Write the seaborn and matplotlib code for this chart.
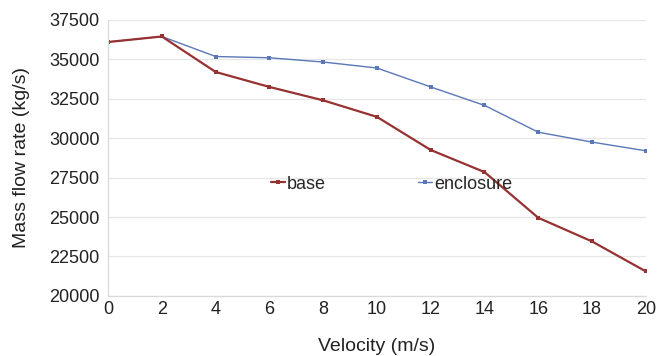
import pandas as pd
import seaborn as sns
import matplotlib.pyplot as plt

velocity = [0, 2, 4, 6, 8, 10, 12, 14, 16, 18, 20]
base = [36100, 36450, 34200, 33250, 32400, 31350, 29250, 27850, 24950, 23450, 21550]
enclosure = [36100, 36450, 35180, 35100, 34830, 34450, 33250, 32080, 30380, 29750, 29200]
y_ticks = [20000, 22500, 25000, 27500, 30000, 32500, 35000, 37500]


def main():
    df = pd.DataFrame({'Velocity': velocity * 2,
                       'Mass': base + enclosure,
                       'series': ['base'] * len(base) + ['enclosure'] * len(enclosure)})

    sns.set_style('white')
    plt.rcParams['font.family'] = ['Liberation Sans', 'DejaVu Sans']

    fig = plt.figure(figsize=(6.59, 3.56), dpi=100)
    ax = fig.add_axes([0.164, 0.169, 0.816, 0.775])

    palette = {'base': '#983232', 'enclosure': '#5a77b8'}
    for name, lw, ms in [('enclosure', 1.0, 3), ('base', 1.6, 3.5)]:
        sub = df[df['series'] == name]
        sns.lineplot(data=sub, x='Velocity', y='Mass', ax=ax, color=palette[name],
                     linewidth=lw, marker='s', markersize=ms, markeredgewidth=0,
                     label=name)

    ax.set_xlim(0, 20)
    ax.set_ylim(20000, 37500)
    ax.set_xticks(range(0, 21, 2))
    ax.set_yticks(y_ticks)
    ax.tick_params(axis='both', labelsize=13, length=4, width=0.8)
    ax.tick_params(axis='x', colors='#dddddd', labelcolor='#222222', pad=0)
    ax.tick_params(axis='y', colors='#dddddd', labelcolor='#222222', pad=2)
    ax.yaxis.grid(True, color='#e6e6e6', linewidth=0.9)
    for side in ['top', 'right']:
        ax.spines[side].set_visible(False)
    for side in ['left', 'bottom']:
        ax.spines[side].set_color('#d9d9d9')
        ax.spines[side].set_linewidth(0.9)

    ax.set_xlabel('Velocity (m/s)', fontsize=14, color='#222222', labelpad=14)
    ax.set_ylabel('Mass flow rate (kg/s)', fontsize=14, color='#222222', labelpad=14)

    handles, labels = ax.get_legend_handles_labels()
    order = [labels.index('base'), labels.index('enclosure')]
    ax.legend([handles[i] for i in order], [labels[i] for i in order],
              loc='center', bbox_to_anchor=(0.527, 0.405), ncol=2, frameon=False,
              fontsize=13, handlelength=0.8, handletextpad=0.1, columnspacing=5.1)

    plt.savefig('out.png', dpi=100)
    plt.close()


if __name__ == '__main__':
    main()
